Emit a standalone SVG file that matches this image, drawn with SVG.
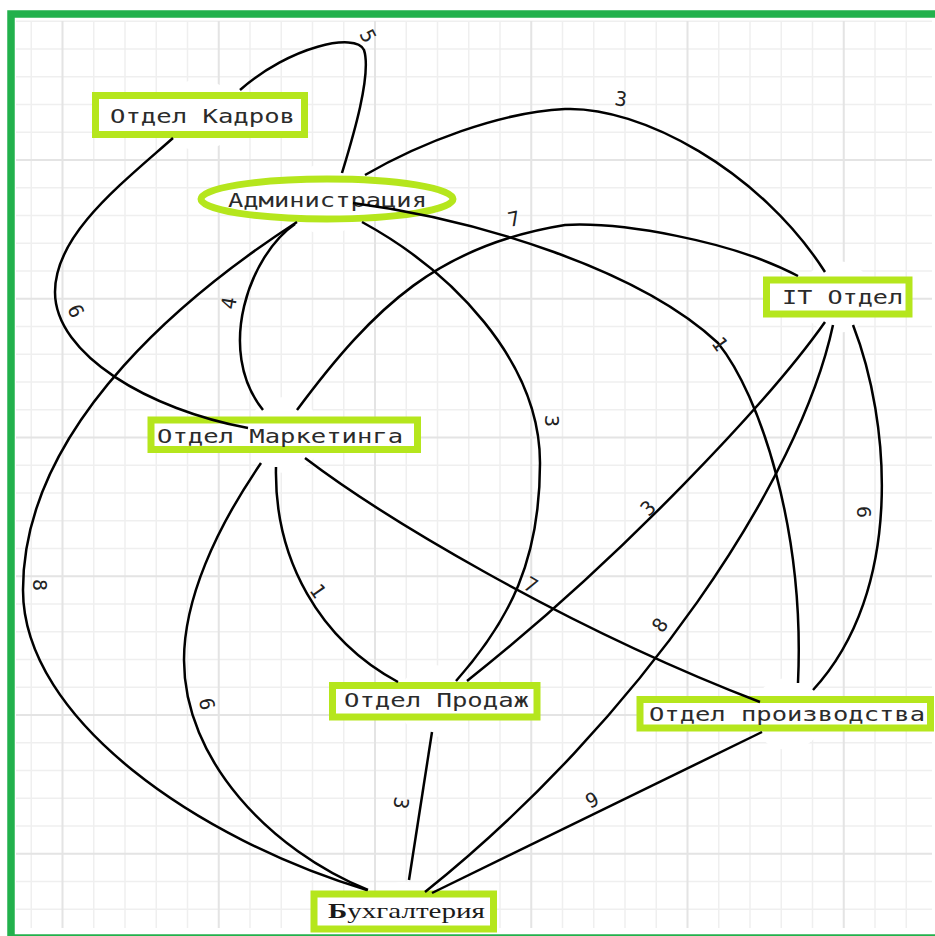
<svg xmlns="http://www.w3.org/2000/svg" width="935" height="936" viewBox="0 0 935 936">
<style>
.gmin{stroke:#efefef;stroke-width:1.5;fill:none}
.gmaj{stroke:#e4e4e4;stroke-width:2;fill:none}
.box{fill:#ffffff;stroke:#b5e61d;stroke-width:7}
.halo{fill:#ffffff}
.nt{font-family:"DejaVu Sans Mono","Liberation Mono",monospace;font-size:20px;fill:#2b2b2b}
.st{font-family:"Liberation Serif","DejaVu Serif",serif;font-size:22px;fill:#1a1a1a}
.edge{fill:none;stroke:#000;stroke-width:2.5}
.lbl{font-family:"DejaVu Sans Mono","Liberation Mono",monospace;font-size:20px;fill:#222;text-anchor:middle;dominant-baseline:central}
</style>
<rect width="935" height="936" fill="#ffffff"/>
<g id="grid">
<path class="gmin" d="M31.25 21V928M93.75 21V928M125 21V928M156.25 21V928M187.5 21V928M250 21V928M281.25 21V928M312.5 21V928M343.75 21V928M406.25 21V928M437.5 21V928M468.75 21V928M500 21V928M562.5 21V928M593.75 21V928M625 21V928M656.25 21V928M718.75 21V928M750 21V928M781.25 21V928M812.5 21V928M875 21V928M906.25 21V928
M16 21.25H932M16 49H932M16 76.75H932M16 104.5H932M16 132.25H932M16 187.75H932M16 215.5H932M16 243.25H932M16 271H932M16 326.5H932M16 354.25H932M16 382H932M16 409.75H932M16 465.25H932M16 493H932M16 520.75H932M16 548.5H932M16 604H932M16 631.75H932M16 659.5H932M16 687.25H932M16 742.75H932M16 770.5H932M16 798.25H932M16 826H932M16 881.5H932M16 909.25H932"/>
<path class="gmaj" d="M62.5 21V928M218.75 21V928M375 21V928M531.25 21V928M687.5 21V928M843.75 21V928M16 160H932M16 298.75H932M16 437.5H932M16 576.25H932M16 715H932M16 853.75H932"/>
</g>
<g id="halos">
<circle class="halo" cx="200" cy="115" r="36"/>
<circle class="halo" cx="327" cy="199" r="36"/>
<circle class="halo" cx="837" cy="297" r="36"/>
<circle class="halo" cx="284" cy="435" r="38"/>
<circle class="halo" cx="434" cy="701" r="36"/>
<circle class="halo" cx="788" cy="714" r="36"/>
<circle class="halo" cx="403" cy="912" r="30"/>
</g>
<rect x="11" y="14" width="932" height="924" fill="none" stroke="#22b14c" stroke-width="7.5"/>
<g id="node-kadry">
<rect class="box" x="95.5" y="95.5" width="209" height="39"/>
<text class="nt" x="110" y="123" textLength="185" lengthAdjust="spacingAndGlyphs">Отдел Кадров</text>
</g>
<g id="node-admin">
<ellipse class="box" cx="327" cy="199" rx="126" ry="20"/>
<text class="nt" x="228" y="206.5" textLength="199" lengthAdjust="spacingAndGlyphs">Администрация</text>
</g>
<g id="node-it">
<rect class="box" x="766.5" y="280" width="142.5" height="34"/>
<text class="nt" x="782" y="303.5" textLength="121" lengthAdjust="spacingAndGlyphs">IT Отдел</text>
</g>
<g id="node-marketing">
<rect class="box" x="151" y="420" width="266.5" height="29.5"/>
<text class="nt" x="157" y="442.5" textLength="246" lengthAdjust="spacingAndGlyphs">Отдел Маркетинга</text>
</g>
<g id="node-sales">
<rect class="box" x="332.5" y="685.5" width="204.5" height="31.5"/>
<text class="nt" x="344" y="706.5" textLength="185" lengthAdjust="spacingAndGlyphs">Отдел Продаж</text>
</g>
<g id="node-production">
<rect class="box" x="640" y="699.5" width="290.5" height="28.5"/>
<text class="nt" x="649" y="721" textLength="276" lengthAdjust="spacingAndGlyphs">Отдел производства</text>
</g>
<g id="node-accounting">
<rect class="box" x="314" y="894" width="179.5" height="35"/>
<text class="st" x="328" y="917.5" textLength="157" lengthAdjust="spacingAndGlyphs"><tspan font-weight="bold">Б</tspan>ухгалтерия</text>
</g>
<g id="connectors">
<path class="edge" d="M342 173C352 140 372 75 364 50C356 32 290 46 240 90"/>
<path class="edge" d="M173 138C120 185 55 235 55 292C55 355 150 410 248 428"/>
<path class="edge" d="M365 175C420 143 500 112 565 109C640 106 760 170 825 272"/>
<path class="edge" d="M297 410C375 305 440 245 565 225C620 222 730 240 798 276"/>
<path class="edge" d="M353 203C480 220 640 270 718 343C760 395 805 530 798 683"/>
<path class="edge" d="M295 224C250 255 215 350 263 410"/>
<path class="edge" d="M297 222C200 285 23 420 23 590C23 720 200 840 367 890"/>
<path class="edge" d="M362 222C450 270 540 360 540 463C540 560 510 620 456 681"/>
<path class="edge" d="M261 463C215 530 184 600 184 660C184 760 270 850 368 890"/>
<path class="edge" d="M276 467C274 560 320 640 398 682"/>
<path class="edge" d="M305 458C380 515 560 625 760 702"/>
<path class="edge" d="M825 322C770 400 620 560 467 681"/>
<path class="edge" d="M833 325C800 480 640 720 425 892"/>
<path class="edge" d="M853 325C890 420 905 590 813 690"/>
<path class="edge" d="M432 732L409 880"/>
<path class="edge" d="M762 732L432 893"/>
</g>
<g id="labels">
<text class="lbl" transform="translate(368 36) rotate(63)">5</text>
<text class="lbl" transform="translate(621 99) rotate(8)">3</text>
<text class="lbl" transform="translate(514 219) rotate(-12)">7</text>
<text class="lbl" transform="translate(76 311) rotate(65)">6</text>
<text class="lbl" transform="translate(229 303) rotate(-80)">4</text>
<text class="lbl" transform="translate(720 344) rotate(55)">1</text>
<text class="lbl" transform="translate(552 421) rotate(90)">3</text>
<text class="lbl" transform="translate(648 508) rotate(-45)">3</text>
<text class="lbl" transform="translate(864 512) rotate(90)">6</text>
<text class="lbl" transform="translate(40 585) rotate(90)">8</text>
<text class="lbl" transform="translate(318 591) rotate(55)">1</text>
<text class="lbl" transform="translate(531 585) rotate(30)">7</text>
<text class="lbl" transform="translate(660 625) rotate(-55)">8</text>
<text class="lbl" transform="translate(207 704) rotate(80)">6</text>
<text class="lbl" transform="translate(401 803) rotate(98)">3</text>
<text class="lbl" transform="translate(592 800) rotate(-26)">9</text>
</g>
</svg>
